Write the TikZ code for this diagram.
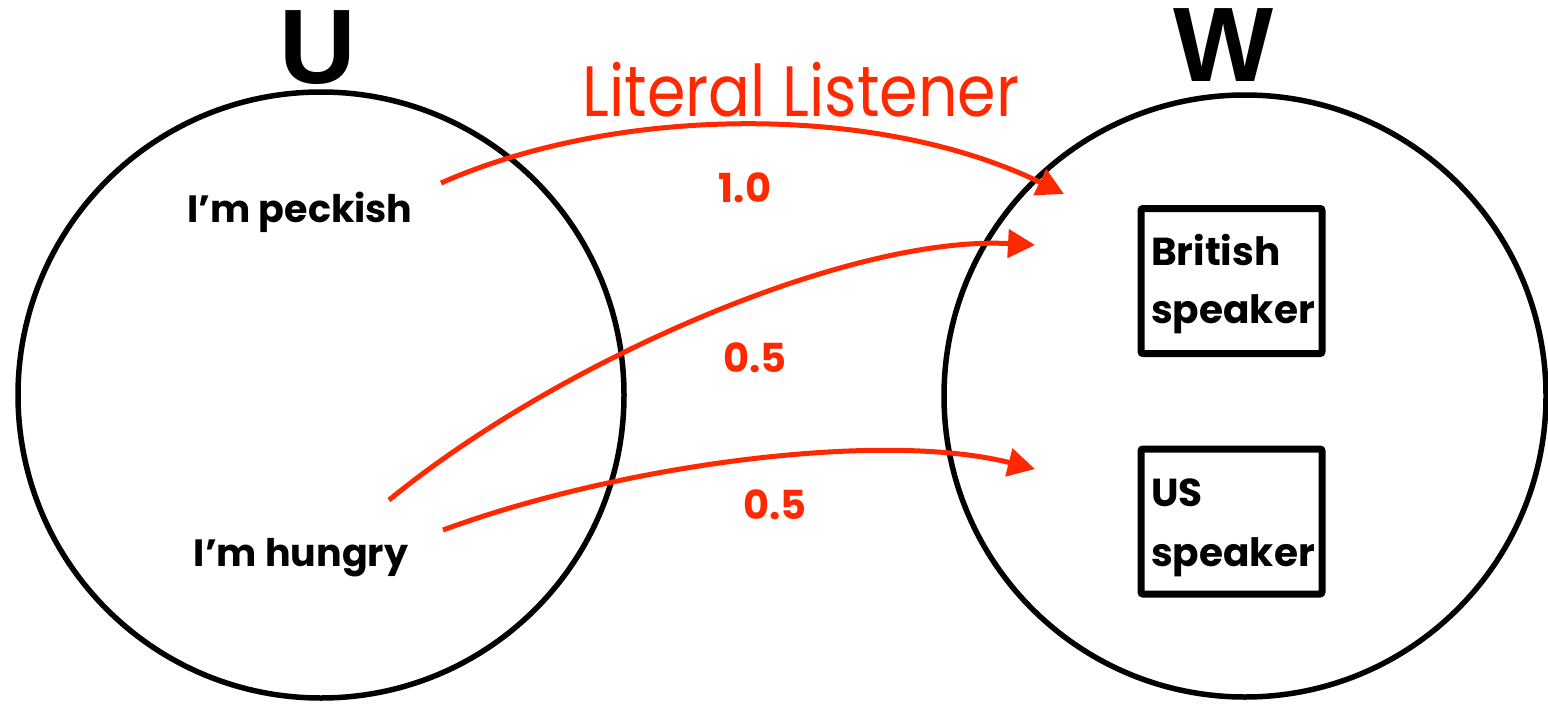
\documentclass[tikz,border=0pt]{standalone}
\usepackage{fontspec}
\setmainfont{Poppins}
\newfontfamily\heavyfont{Liberation Sans}
\usetikzlibrary{arrows.meta}
\definecolor{lred}{RGB}{255,40,0}
\tikzset{
  setcircle/.style={draw=black, line width=5.5pt, circle, inner sep=0pt},
  speakerbox/.style={draw=black, line width=7pt, rounded corners=2pt, inner sep=0pt},
  maparrow/.style={draw=lred, line width=5pt, -{Triangle[length=27pt,width=28pt]}},
  utterance/.style={font=\fontsize{38}{42}\selectfont\bfseries, inner sep=0pt},
  prob/.style={font=\fontsize{40}{44}\selectfont\bfseries, text=lred, inner sep=0pt},
  setname/.style={font=\fontsize{106}{110}\heavyfont\bfseries, inner sep=0pt},
  spktext/.style={font=\fontsize{39}{60}\selectfont\bfseries, inner sep=0pt, anchor=base west},
}
\begin{document}
\begin{tikzpicture}[x=1pt,y=-1pt]
\useasboundingbox (0,0) rectangle (1548,704);
\node[setcircle, minimum size=606pt] (U) at (321,395) {};
\node[setcircle, minimum size=602pt] (W) at (1245,396) {};
\node[setname] (ulab) at (318,48) {U};
\node[setname] (wlab) at (1224,45) {W};
\node[text=lred, inner sep=0pt] (title) at (801,90) {\scalebox{1}[1.15]{\fontsize{62}{66}\selectfont Literal Listener}};
\node[utterance] (peck) at (300,212) {I’m peckish};
\node[utterance] (hung) at (301,558) {I’m hungry};
\node[speakerbox, minimum width=181pt, minimum height=145pt] (bbox) at (1231.5,281) {};
\node[speakerbox, minimum width=181pt, minimum height=145pt] (ubox) at (1231.5,521.5) {};
\node[spktext] (brit1) at (1151,265) {British};
\node[spktext] (brit2) at (1151,323) {speaker};
\node[spktext] (us1) at (1151,506) {US};
\node[spktext] (us2) at (1151,566) {speaker};
\coordinate (p1s) at (441,183);
\coordinate (p1e) at (1064,194);
\coordinate (p2s) at (389,500);
\coordinate (p2e) at (1035,245);
\coordinate (p3s) at (443,530);
\coordinate (p3e) at (1035,469);
\draw[maparrow] (p1s) .. controls (620,104) and (880,104) .. (p1e);
\draw[maparrow] (p2s) .. controls (560,360) and (850,235) .. (p2e);
\draw[maparrow] (p3s) .. controls (620,465) and (880,430) .. (p3e);
\node[prob] (pr1) at (745,188) {1.0};
\node[prob] (pr2) at (755,358) {0.5};
\node[prob] (pr3) at (775,505) {0.5};
\end{tikzpicture}
\end{document}
